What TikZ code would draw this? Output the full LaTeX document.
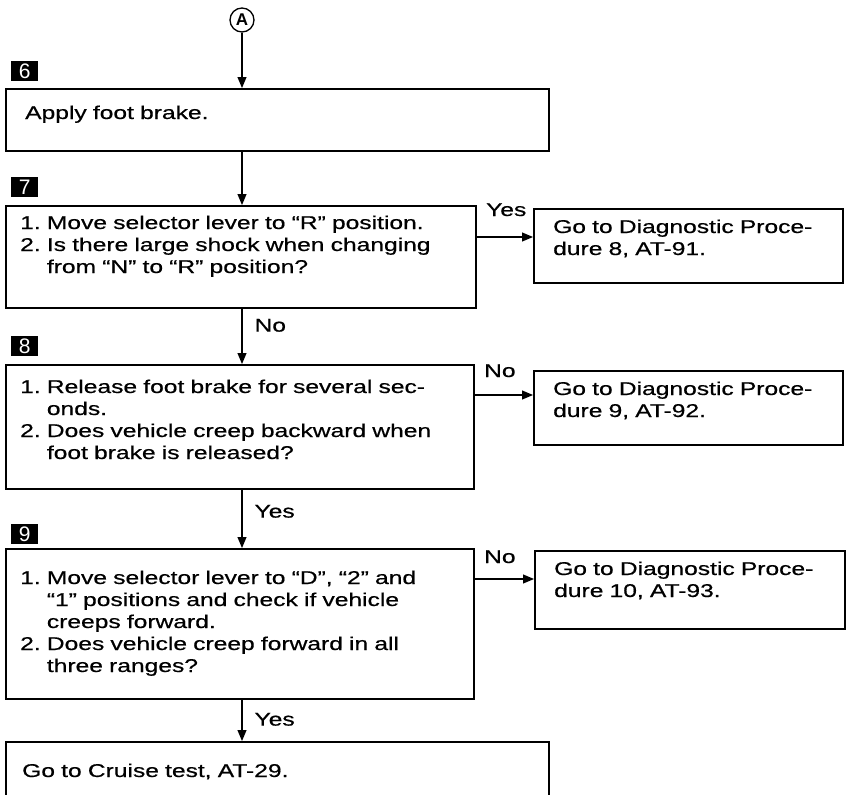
\documentclass[tikz,border=0pt]{standalone}
\usepackage{fontspec}
\setmainfont{Liberation Sans}[FakeStretch=1.33, FakeBold=0.6]
\newfontfamily\digitfont{Liberation Sans}
\usetikzlibrary{arrows.meta, positioning, calc}

% numbered item with hanging indent (end each item with \par)
\newcommand\stepitem[1]{\setbox0\hbox{#1.\ }\hangindent=\wd0\hangafter=1\noindent\box0}

\tikzset{
  stepbox/.style={draw, line width=1.6pt, anchor=north west, inner sep=0pt},
  boxtext/.style={anchor=base west, inner sep=0pt, text width=#1, align=left},
  numtag/.style={fill=black, text=white, minimum width=27pt, minimum height=20pt, inner sep=0pt,
    font=\digitfont\fontsize{21}{21}\selectfont},
  flow/.style={line width=1.1pt, -{Triangle[length=11pt,width=9pt]}},
  answer/.style={inner sep=0pt, anchor=base west},
}

\begin{document}
\begin{tikzpicture}[x=1pt, y=-1pt, font=\fontsize{18.5}{22}\selectfont]
  \useasboundingbox (0,0) rectangle (849,795);
  \clip (0,0) rectangle (849,795);

  \node[circle, draw, line width=1.3pt, minimum size=24pt, inner sep=0pt,
    font=\digitfont\bfseries\fontsize{17}{17}\selectfont] (a) at (242,20) {A};

  % step 6
  \node[stepbox, minimum width=543pt, minimum height=62pt] (s6) at (5,88) {};
  \node[numtag, above right=7pt and 6pt of s6.north west] (n6) {6};
  \node[boxtext=500pt] (t6) at ([shift={(20pt,-31pt)}]s6.north west) {Apply foot brake.};

  % step 7
  \node[stepbox, minimum width=470pt, minimum height=102pt] (s7) at (5,205) {};
  \node[numtag, above right=8pt and 6pt of s7.north west] (n7) {7};
  \node[boxtext=445pt] (t7) at ([shift={(15pt,-24pt)}]s7.north west)
    {\stepitem{1}Move selector lever to ``R'' position.\par
     \stepitem{2}Is there large shock when changing\newline from ``N'' to ``R'' position?\par};
  \node[stepbox, minimum width=309pt, minimum height=74pt] (r7) at (533,208) {};
  \node[boxtext=290pt] (u7) at ([shift={(20pt,-25pt)}]r7.north west) {Go to Diagnostic Proce-\newline dure 8, AT-91.};

  % step 8
  \node[stepbox, minimum width=468pt, minimum height=124pt] (s8) at (5,364) {};
  \node[numtag, above right=8pt and 6pt of s8.north west] (n8) {8};
  \node[boxtext=445pt] (t8) at ([shift={(15pt,-29pt)}]s8.north west)
    {\stepitem{1}Release foot brake for several sec-\newline onds.\par
     \stepitem{2}Does vehicle creep backward when\newline foot brake is released?\par};
  \node[stepbox, minimum width=309pt, minimum height=74pt] (r8) at (533,370) {};
  \node[boxtext=290pt] (u8) at ([shift={(20pt,-25pt)}]r8.north west) {Go to Diagnostic Proce-\newline dure 9, AT-92.};

  % step 9
  \node[stepbox, minimum width=468pt, minimum height=150pt] (s9) at (5,548) {};
  \node[numtag, above right=4pt and 6pt of s9.north west] (n9) {9};
  \node[boxtext=445pt] (t9) at ([shift={(15pt,-36pt)}]s9.north west)
    {\stepitem{1}Move selector lever to ``D'', ``2'' and\newline ``1'' positions and check if vehicle\newline creeps forward.\par
     \stepitem{2}Does vehicle creep forward in all\newline three ranges?\par};
  \node[stepbox, minimum width=310pt, minimum height=78pt] (r9) at (534,550) {};
  \node[boxtext=290pt] (u9) at ([shift={(20pt,-25pt)}]r9.north west) {Go to Diagnostic Proce-\newline dure 10, AT-93.};

  % end
  \node[stepbox, minimum width=543pt, minimum height=100pt] (s10) at (5,741) {};
  \node[boxtext=500pt] (t10) at ([shift={(17pt,-36pt)}]s10.north west) {Go to Cruise test, AT-29.};

  % connectors
  \coordinate (j7) at ([yshift=-29pt]r7.north west);
  \coordinate (j8) at ([yshift=-25pt]r8.north west);
  \coordinate (j9) at ([yshift=-29pt]r9.north west);

  \draw[flow] (a.south) -- (s6.north -| a);
  \draw[flow] (s6.south -| a) -- (s7.north -| a);
  \draw[flow] (s7.east |- j7) -- (j7) node[answer, at start, shift={(9pt,21pt)}] {Yes};
  \draw[flow] (s7.south -| a) -- (s8.north -| a) node[answer, at start, shift={(12pt,-23pt)}] {No};
  \draw[flow] (s8.east |- j8) -- (j8) node[answer, at start, shift={(9pt,18pt)}] {No};
  \draw[flow] (s8.south -| a) -- (s9.north -| a) node[answer, at start, shift={(12pt,-28pt)}] {Yes};
  \draw[flow] (s9.east |- j9) -- (j9) node[answer, at start, shift={(9pt,16pt)}] {No};
  \draw[flow] (s9.south -| a) -- (s10.north -| a) node[answer, at start, shift={(12pt,-26pt)}] {Yes};
\end{tikzpicture}
\end{document}
